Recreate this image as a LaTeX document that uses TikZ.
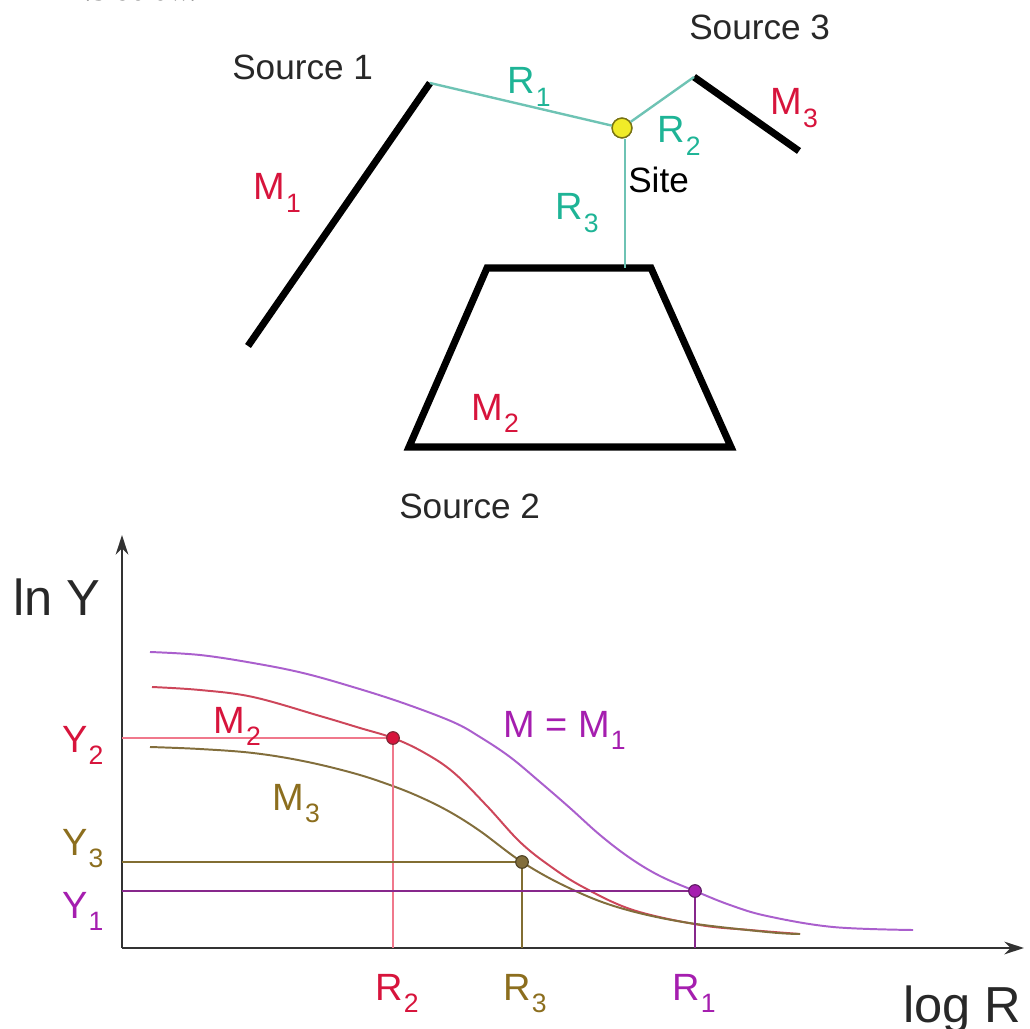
\documentclass[tikz,border=0pt]{standalone}
\usepackage{fontspec}
\setmainfont{Liberation Sans}
\newfontfamily\serifd{Liberation Serif}
\usepackage{graphicx}
\usetikzlibrary{arrows.meta}

\definecolor{teallab}{RGB}{30,180,150}
\definecolor{tealline}{RGB}{110,195,180}
\definecolor{redlab}{RGB}{215,20,60}
\definecolor{redcurve}{RGB}{205,70,90}
\definecolor{redguide}{RGB}{240,120,140}
\definecolor{purplab}{RGB}{165,30,175}
\definecolor{purcurve}{RGB}{170,95,205}
\definecolor{purguide}{RGB}{135,40,140}
\definecolor{olivelab}{RGB}{140,110,30}
\definecolor{olivecurve}{RGB}{130,110,60}
\definecolor{oliveguide}{RGB}{130,110,50}
\definecolor{axisgray}{RGB}{50,50,50}
\definecolor{textgray}{RGB}{40,40,40}
\definecolor{siteyellow}{RGB}{240,235,40}
\definecolor{siteedge}{RGB}{120,115,20}

\newcommand\sublab[2]{#1\kern0.03em\raisebox{-0.32em}{\scalebox{0.7}{#2}}}

\begin{document}
\begin{tikzpicture}[x=0.025cm,y=-0.025cm,
  fault/.style={line width=5pt, black, line join=miter},
  dist/.style={line width=1.7pt, tealline},
  lbl/.style={anchor=base west, inner sep=0pt, font=\fontsize{27}{30}\selectfont},
  src/.style={anchor=base west, inner sep=0pt, text=textgray, font=\fontsize{25}{28}\selectfont},
  big/.style={anchor=base west, inner sep=0pt, text=textgray, font=\fontsize{36}{40}\selectfont},
  curve/.style={line width=1.4pt},
  guide/.style={line width=1.5pt},
  axis/.style={line width=1.8pt, axisgray, -{Stealth[length=14pt,width=9pt]}},
  dot/.style={circle, inner sep=0pt, minimum size=9pt, line width=0.8pt}]
\useasboundingbox (0,0) rectangle (1030,1029);

% cut-off text at top
\node[anchor=base west, inner sep=0pt, font=\serifd\fontsize{22}{24}\selectfont] (cap) at (53,1) {12.3 below.};

% ---------- map ----------
\coordinate (s1a) at (430,83);
\coordinate (s1b) at (248,346);
\coordinate (s3a) at (694,77);
\coordinate (s3b) at (799,151);
\coordinate (t1) at (487,268);
\coordinate (t2) at (651,268);
\coordinate (t3) at (731,447);
\coordinate (t4) at (409,447);
\coordinate (r3end) at (625,268);

\draw[fault] (s1a) -- (s1b);
\draw[fault] (s3a) -- (s3b);
\draw[fault] (t1) -- (t2) -- (t3) -- (t4) -- cycle;

\node[circle, inner sep=0pt, minimum size=14pt, fill=siteyellow, draw=siteedge, line width=1pt] (site) at (622,128) {};
\draw[dist] (s1a) -- (site);
\draw[dist] (site) -- (s3a);
\draw[dist] (site.south -| r3end) -- (r3end);
\node[circle, inner sep=0pt, minimum size=14pt, fill=siteyellow, draw=siteedge, line width=1pt] at (site) {};

\node[src] (src1) at (232,80) {Source 1};
\node[src] (src3) at (689,40) {Source 3};
\node[src] (src2) at (399,518) {Source 2};
\node[src, text=black] (sitelab) at (628,193) {Site};

\node[lbl, text=redlab] (m1) at (253,200) {\sublab{M}{1}};
\node[lbl, text=redlab] (m3t) at (770,115) {\sublab{M}{3}};
\node[lbl, text=redlab] (m2t) at (471,420) {\sublab{M}{2}};
\node[lbl, text=teallab] (r1t) at (507,94) {\sublab{R}{1}};
\node[lbl, text=teallab] (r2t) at (657,143) {\sublab{R}{2}};
\node[lbl, text=teallab] (r3t) at (555,220) {\sublab{R}{3}};

% ---------- plot ----------
\coordinate (o) at (122,948);
\coordinate (ytop) at (122,535);
\coordinate (xend) at (1024,948);
\draw[axis] (o) -- (ytop);
\draw[axis] (o) -- (xend);

\node[big] (lny) at (13,615) {ln Y};
\node[big] (logr) at (903,1022) {log R};

% curves
\draw[curve, purcurve] plot[smooth, tension=0.6] coordinates {(150,652) (200,655) (253,663) (303,673) (353,687) (403,703) (453,722) (480,737) (510,757) (540,782) (570,808) (600,835) (630,858) (660,876) (695,891) (730,905) (767,916) (833,927) (913,930)};
\draw[curve, redcurve] plot[smooth, tension=0.6] coordinates {(152,687) (200,690) (253,697) (320,716) (360,728) (393,738) (423,752) (453,772) (487,806) (520,842) (550,866) (583,887) (633,910) (700,925) (750,930) (800,934)};
\draw[curve, olivecurve] plot[smooth, tension=0.6] coordinates {(150,747) (200,749) (253,753) (303,761) (353,773) (390,785) (420,797) (450,812) (480,831) (522,862) (567,887) (617,907) (683,922) (767,932) (800,934)};

% points
\coordinate (p2) at (393,738);
\coordinate (p3) at (522,862);
\coordinate (p1) at (695,891);

\draw[guide, redguide] (o |- p2) -- (p2) -- (o -| p2);
\draw[guide, oliveguide] (o |- p3) -- (p3) -- (o -| p3);
\draw[guide, purguide] (o |- p1) -- (p1) -- (o -| p1);

\node[dot, fill=redlab, draw=redcurve!60!black] (d2) at (p2) {};
\node[dot, fill=olivecurve, draw=olivecurve!60!black] (d3) at (p3) {};
\node[dot, fill=purplab, draw=purguide!70!black] (d1) at (p1) {};

% labels
\node[lbl, text=redlab] (m2p) at (213,733) {\sublab{M}{2}};
\node[lbl, text=olivelab] (m3p) at (272,810) {\sublab{M}{3}};
\node[lbl, text=purplab] (mm1) at (503,737) {M = \sublab{M}{1}};

\node[lbl, text=redlab] (y2) at (62,752) {\sublab{Y}{2}};
\node[lbl, text=olivelab] (y3) at (62,855) {\sublab{Y}{3}};
\node[lbl, text=purplab] (y1) at (62,918) {\sublab{Y}{1}};

\node[lbl, text=redlab] (r2p) at (375,1000) {\sublab{R}{2}};
\node[lbl, text=olivelab] (r3p) at (503,1000) {\sublab{R}{3}};
\node[lbl, text=purplab] (r1p) at (672,1000) {\sublab{R}{1}};
\end{tikzpicture}
\end{document}
